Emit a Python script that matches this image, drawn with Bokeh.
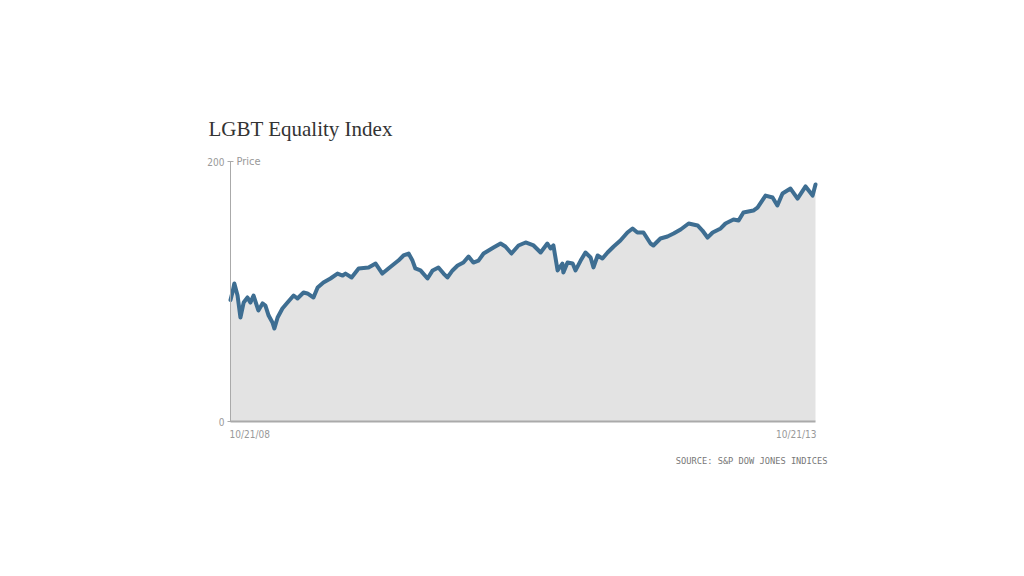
from datetime import datetime, timedelta
import pandas as pd
from bokeh.plotting import figure
from bokeh.models import Range1d, FixedTicker, Label, ColumnDataSource
from bokeh.embed import file_html
from bokeh.resources import INLINE

title_text = "LGBT Equality Index"
y_label = "Price"
source_text = "SOURCE: S&P DOW JONES INDICES"
start_label = "10/21/08"
end_label = "10/21/13"
y_ticks = [0, 200]

dates = [
    "2008-10-21", "2008-10-27", "2008-11-02", "2008-11-12", "2008-11-21", "2008-12-01",
    "2008-12-13", "2008-12-22", "2009-01-01", "2009-01-16", "2009-01-29", "2009-02-07",
    "2009-02-17", "2009-03-01", "2009-03-07", "2009-03-17", "2009-04-01", "2009-04-17",
    "2009-05-06", "2009-05-18", "2009-06-06", "2009-06-18", "2009-07-07", "2009-07-20",
    "2009-08-07", "2009-08-29", "2009-09-20", "2009-10-06", "2009-10-15", "2009-11-03",
    "2009-11-25", "2009-12-26", "2010-01-17", "2010-02-07", "2010-02-26", "2010-03-29",
    "2010-04-14", "2010-04-30", "2010-05-12", "2010-05-21", "2010-06-06", "2010-06-28",
    "2010-07-14", "2010-08-01", "2010-08-17", "2010-08-29", "2010-09-14", "2010-09-30",
    "2010-10-18", "2010-11-03", "2010-11-18", "2010-12-04", "2010-12-20", "2011-01-20",
    "2011-02-11", "2011-02-26", "2011-03-17", "2011-04-08", "2011-04-30", "2011-05-25",
    "2011-06-16", "2011-07-07", "2011-07-17", "2011-07-26", "2011-08-08", "2011-08-23",
    "2011-08-26", "2011-09-08", "2011-09-24", "2011-10-03", "2011-10-19", "2011-11-03",
    "2011-11-19", "2011-11-28", "2011-12-11", "2011-12-26", "2012-01-11", "2012-01-30",
    "2012-02-20", "2012-03-13", "2012-03-29", "2012-04-13", "2012-05-02", "2012-05-24",
    "2012-06-02", "2012-06-24", "2012-07-16", "2012-08-04", "2012-08-26", "2012-09-20",
    "2012-10-18", "2012-11-02", "2012-11-18", "2012-12-04", "2012-12-29", "2013-01-13",
    "2013-02-07", "2013-02-23", "2013-03-10", "2013-04-10", "2013-04-23", "2013-05-18",
    "2013-06-09", "2013-06-24", "2013-07-10", "2013-08-04", "2013-08-26", "2013-09-20",
    "2013-10-12", "2013-10-21",
]
prices = [
    93.5, 99.2, 106.2, 96.9, 80.0, 91.5,
    95.4, 91.5, 96.9, 85.4, 90.8, 89.2,
    81.5, 76.2, 71.5, 80.0, 86.9, 91.5,
    96.9, 94.6, 99.2, 98.5, 95.4, 103.1,
    106.9, 110.0, 113.8, 112.3, 113.8, 110.8,
    117.7, 118.5, 121.5, 113.8, 117.7, 123.8,
    127.7, 129.2, 123.8, 117.7, 116.2, 110.0,
    116.2, 118.5, 113.8, 110.8, 116.2, 120.0,
    122.3, 126.9, 122.3, 123.8, 129.2, 133.8,
    136.9, 134.6, 129.2, 135.4, 137.7, 135.4,
    130.0, 136.9, 133.1, 135.4, 116.2, 121.5,
    114.6, 122.3, 121.5, 116.2, 123.8, 130.0,
    126.2, 118.5, 127.7, 125.4, 130.0, 134.6,
    139.2, 145.4, 148.5, 145.4, 145.4, 136.9,
    135.4, 140.8, 142.3, 144.6, 147.7, 152.3,
    150.8, 146.9, 141.5, 145.4, 148.5, 152.3,
    155.4, 154.6, 160.8, 162.3, 164.6, 173.8,
    172.3, 166.2, 175.4, 179.2, 171.5, 180.8,
    173.8, 182.3,
]

x = pd.to_datetime(dates)
src = ColumnDataSource(dict(x=x, y=prices, y0=[0] * len(prices)))
x0 = datetime(2008, 10, 21)
x1 = datetime(2013, 10, 21)
x0_ms = pd.Timestamp(x0).value // 10**6
x1_ms = pd.Timestamp(x1).value // 10**6

# layout: frame fills the canvas; data area spans px 230..815 and 161..421
W, H = 1016, 568
L_PX, R_PX, T_PX, B_PX = 230, 815, 161, 421
days_per_px = (x1 - x0).days / (R_PX - L_PX)
units_per_px = (y_ticks[1] - y_ticks[0]) / (B_PX - T_PX)
xr = Range1d(x0 - timedelta(days=L_PX * days_per_px),
             x1 + timedelta(days=(W - R_PX) * days_per_px))
yr = Range1d(-(H - B_PX) * units_per_px, y_ticks[1] + T_PX * units_per_px)

p = figure(width=W, height=H, x_axis_type="datetime",
           x_range=xr, y_range=yr,
           output_backend="svg", toolbar_location=None,
           min_border_left=0, min_border_right=0,
           min_border_top=0, min_border_bottom=0)
p.title.visible = False
p.outline_line_color = None
p.xgrid.visible = False
p.ygrid.visible = False
p.background_fill_color = "white"
p.border_fill_color = "white"

p.varea(x="x", y1="y0", y2="y", source=src, fill_color="#e3e3e3")
p.line(x="x", y="y", source=src, line_color="#3e6e92", line_width=4,
       line_join="round", line_cap="round")

narrow = "DejaVu Sans Condensed, Liberation Sans Narrow, sans-serif"

ya = p.yaxis[0]
ya.fixed_location = x0_ms
ya.bounds = (0, 200)
ya.ticker = FixedTicker(ticks=y_ticks)
ya.axis_line_color = "#aaaaaa"
ya.major_tick_line_color = "#aaaaaa"
ya.major_tick_in = 3
ya.major_tick_out = 3
ya.minor_tick_line_color = None
ya.major_label_text_color = "#999999"
ya.major_label_text_font = narrow
ya.major_label_text_font_size = "10px"
ya.major_label_standoff = 3

xa = p.xaxis[0]
xa.fixed_location = 0
xa.bounds = (x0_ms, x1_ms)
xa.ticker = FixedTicker(ticks=[])
xa.axis_line_color = "#aaaaaa"
xa.axis_line_width = 2
xa.major_tick_line_color = None
xa.minor_tick_line_color = None
xa.major_label_text_font_size = "0px"

p.add_layout(Label(x=x0, y=200, x_offset=6, text=y_label, text_font=narrow,
                   text_font_size="11px", text_color="#999999",
                   text_baseline="middle", text_align="left"))
p.add_layout(Label(x=x0, y=200, x_offset=-22, y_offset=33, text=title_text,
                   text_font="Liberation Serif, DejaVu Serif, serif",
                   text_font_size="21px", text_color="#333333",
                   text_baseline="middle", text_align="left"))
p.add_layout(Label(x=x0, y=0, x_offset=-1, y_offset=-13, text=start_label,
                   text_font=narrow, text_font_size="10px", text_color="#999999",
                   text_baseline="middle", text_align="left"))
p.add_layout(Label(x=x1, y=0, x_offset=1, y_offset=-13, text=end_label,
                   text_font=narrow, text_font_size="10px", text_color="#999999",
                   text_baseline="middle", text_align="right"))
p.add_layout(Label(x=x1, y=0, x_offset=12, y_offset=-39, text=source_text,
                   text_font="DejaVu Sans Mono, monospace", text_font_size="8.7px",
                   text_color="#777777", text_baseline="middle", text_align="right"))

open("out.html", "w").write(file_html(p, INLINE))
